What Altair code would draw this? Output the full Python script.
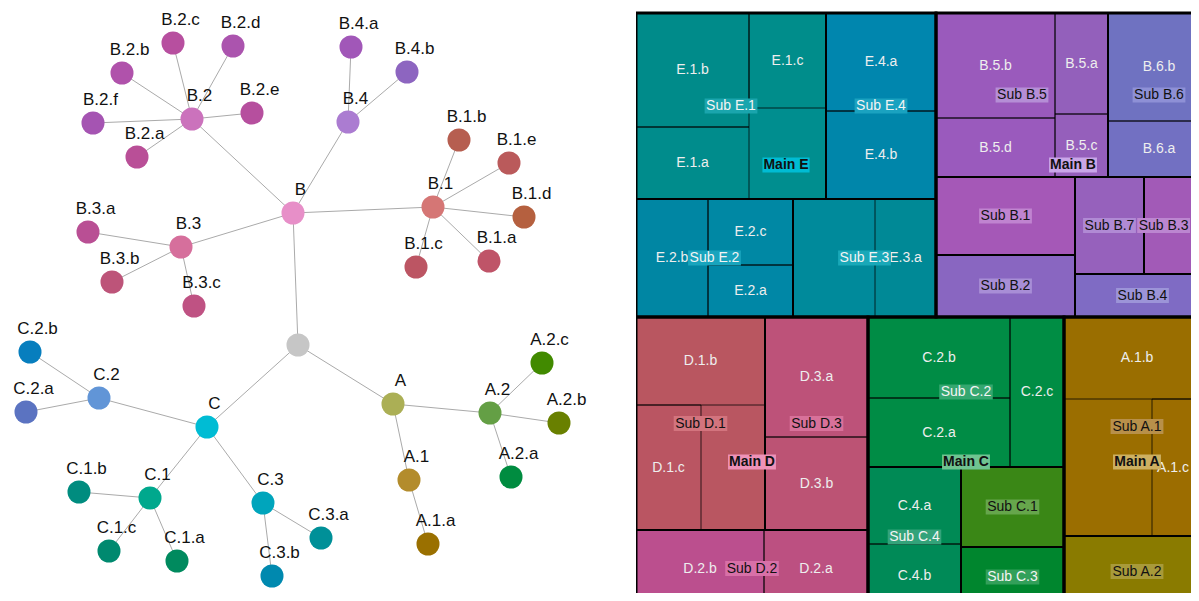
import altair as alt
import pandas as pd

# ---------------- network (left) ----------------
node_names = ["root", "A", "A.1", "A.1.a", "A.2", "A.2.a", "A.2.b", "A.2.c",
              "B", "B.1", "B.1.a", "B.1.b", "B.1.c", "B.1.d", "B.1.e",
              "B.2", "B.2.a", "B.2.b", "B.2.c", "B.2.d", "B.2.e", "B.2.f",
              "B.3", "B.3.a", "B.3.b", "B.3.c", "B.4", "B.4.a", "B.4.b",
              "C", "C.1", "C.1.a", "C.1.b", "C.1.c", "C.2", "C.2.a", "C.2.b",
              "C.3", "C.3.a", "C.3.b"]
node_x = [290, 385, 401, 420, 482, 503, 551, 534,
          285, 425, 481, 451, 408, 516, 501,
          184, 129, 114, 165, 225, 244, 85,
          173, 80, 104, 186, 340, 343, 399,
          199, 142, 169, 71, 101, 91, 18, 22,
          255, 313, 264]
node_y = [337, 396, 472, 536, 405, 469, 415, 355,
          205, 199, 253, 132, 259, 209, 155,
          111, 149, 65, 35, 38, 105, 115,
          239, 224, 274, 298, 114, 39, 64,
          419, 490, 553, 484, 543, 390, 404, 344,
          495, 530, 568]
node_colors = ["#c6c6c6", "#abaf55", "#b38c2c", "#9a7000", "#649f45", "#008c40", "#698000", "#418a00",
               "#e78fc8", "#d57675", "#bf5468", "#b65e50", "#bc5563", "#b5603f", "#ba5a5b",
               "#cb72bc", "#b94f97", "#b052ab", "#b74f9f", "#ab54ae", "#b64f9e", "#a554b2",
               "#d66f9c", "#b94f94", "#bd5479", "#bf5283", "#ab7cd1", "#a157b8", "#8d65c0",
               "#00bcd4", "#00a88d", "#008a5e", "#008c7f", "#00896f", "#6195d7", "#5b73c1", "#077ebe",
               "#00a5bc", "#009098", "#0089af"]

nodes = pd.DataFrame({"name": node_names, "x": node_x, "y": node_y})
nodes["label"] = [("" if n == "root" else n) for n in node_names]
pos = dict(zip(node_names, zip(node_x, node_y)))
edge_rows = []
for n in node_names:
    if n == "root":
        continue
    p = n.rsplit(".", 1)[0] if "." in n else "root"
    edge_rows.append({"x": pos[p][0], "y": pos[p][1], "x2": pos[n][0], "y2": pos[n][1]})
edges = pd.DataFrame(edge_rows)

LW, LH = 600, 585
nx = alt.Scale(domain=[0, LW], nice=False, zero=False)
ny = alt.Scale(domain=[0, LH], nice=False, zero=False, reverse=True)
FONT = "Liberation Sans"

edge_layer = alt.Chart(edges).mark_rule(color="#aaaaaa", strokeWidth=1).encode(
    x=alt.X("x:Q", scale=nx, axis=None), y=alt.Y("y:Q", scale=ny, axis=None),
    x2="x2:Q", y2="y2:Q")
node_layer = alt.Chart(nodes).mark_circle(size=530, opacity=1).encode(
    x=alt.X("x:Q", scale=nx, axis=None), y=alt.Y("y:Q", scale=ny, axis=None),
    color=alt.Color("name:N", scale=alt.Scale(domain=node_names, range=node_colors), legend=None))
node_text = alt.Chart(nodes).mark_text(fontSize=17, font=FONT, color="#111111", dx=7.5, dy=-23,
                                       align="center", baseline="middle").encode(
    x=alt.X("x:Q", scale=nx, axis=None), y=alt.Y("y:Q", scale=ny, axis=None), text="label:N")
left = alt.layer(edge_layer, node_layer, node_text).properties(width=LW, height=LH)

# ---------------- treemap (right) ----------------
main_names = ["Main E", "Main B", "Main D", "Main C", "Main A"]
main_x0 = [0, 300, 0, 232, 428]
main_x1 = [300, 574, 232, 428, 574]
main_y0 = [0, 0, 304, 304, 304]
main_y1 = [304, 304, 594, 594, 594]
main_label_bg = ["#00bcd4", "#c9a6e8", "#ee92b8", "#6fc491", "#cdb061"]

sub_names = ["Sub E.1", "Sub E.4", "Sub E.2", "Sub E.3", "Sub B.5", "Sub B.6", "Sub B.1", "Sub B.2",
             "Sub B.7", "Sub B.3", "Sub B.4", "Sub D.1", "Sub D.3", "Sub D.2", "Sub C.2", "Sub C.4",
             "Sub C.1", "Sub C.3", "Sub A.1", "Sub A.2"]
sub_x0 = [0, 190, 0, 157, 300, 472, 300, 300, 439, 508, 439, 0, 129, 0, 232, 232, 325, 325, 428, 428]
sub_x1 = [190, 300, 157, 300, 472, 574, 439, 439, 508, 574, 574, 129, 232, 232, 428, 325, 428, 428, 574, 574]
sub_y0 = [0, 0, 186, 186, 0, 0, 164, 242, 164, 164, 261, 304, 304, 517, 304, 454, 454, 534, 304, 523]
sub_y1 = [186, 186, 304, 304, 164, 164, 242, 304, 261, 261, 304, 517, 517, 594, 454, 594, 534, 594, 523, 594]
sub_colors = ["#008e8f", "#0086ad", "#0088a5", "#008a9b", "#985cbc", "#7071c1", "#a558b7", "#8966c1",
              "#9661bc", "#a25ab7", "#7f6bc4", "#b95661", "#bd5277", "#bb4f88", "#008c45", "#008a56",
              "#3a8716", "#00862e", "#9b6e00", "#8a7b00"]
sub_label_bg = ["#1aa5ad", "#1aa2c0", "#18a4bd", "#19a8b8", "#b58ed6", "#8e90d6", "#c084d0", "#a88ed6",
                "#b08ad4", "#bc86d0", "#9c94d8", "#d3747e", "#d8719a", "#d870a8", "#35a770", "#33a37a",
                "#66a64c", "#33a05a", "#b8904a", "#a89a3a"]
sub_ink = ["light", "light", "light", "light", "dark", "dark", "dark", "dark", "dark", "dark", "dark",
           "dark", "dark", "dark", "light", "light", "dark", "light", "dark", "dark"]

leaf_names = ["E.1.b", "E.1.a", "E.1.c", "E.4.a", "E.4.b", "E.2.b", "E.2.c", "E.2.a", "E.3.a",
              "B.5.b", "B.5.d", "B.5.a", "B.5.c", "B.6.b", "B.6.a", "D.1.b", "D.1.c", "D.3.a",
              "D.3.b", "D.2.b", "D.2.a", "C.2.b", "C.2.a", "C.2.c", "C.4.a", "C.4.b", "A.1.b", "A.1.c"]
leaf_x0 = [0, 0, 113, 190, 190, 0, 72, 72, 239, 300, 300, 419, 419, 472, 472, 0, 0, 129, 129, 0, 128,
           232, 232, 374, 232, 232, 428, 516]
leaf_x1 = [113, 113, 190, 300, 300, 72, 157, 157, 300, 419, 419, 472, 472, 574, 574, 129, 65, 232, 232,
           128, 232, 374, 374, 428, 325, 325, 574, 574]
leaf_y0 = [0, 114, 0, 0, 98, 186, 186, 252, 186, 0, 105, 0, 101, 0, 108, 304, 392, 304, 424, 517, 517,
           304, 385, 304, 454, 531, 304, 386]
leaf_y1 = [114, 186, 95, 98, 186, 304, 252, 304, 304, 105, 164, 101, 164, 108, 164, 392, 517, 424, 517,
           594, 594, 385, 454, 454, 531, 594, 386, 523]
leaf_colors = ["#008b8a", "#008c8c", "#008d8b", "#0086ae", "#0086aa", "#0086a3", "#0088a4", "#0087a6",
               "#008996", "#9a5abc", "#9a5abd", "#9360bb", "#955fbb", "#6f72c1", "#7270c2", "#b95660",
               "#ba5562", "#bd5279", "#bc5374", "#bb4f8e", "#bc5081", "#008c45", "#008c45", "#008d44",
               "#008a55", "#008a57", "#9a6e00", "#9c6d00"]

# approximate text widths (Arial metrics, per 1000 em) for label boxes
REG = {"S": 667, "u": 556, "b": 556, " ": 278, ".": 278, "A": 667, "B": 667, "C": 722, "D": 722,
       "E": 667, "M": 833, "a": 556, "i": 222, "n": 556, "c": 500, "d": 556}
BOLD = {"M": 833, "a": 556, "i": 278, "n": 611, " ": 278, "A": 722, "B": 722, "C": 722, "D": 722, "E": 667}


def text_w(s, table, size=14):
    return sum(table.get(c, 556) for c in s) * size / 1000.0


mains = pd.DataFrame({"name": main_names, "x0": main_x0, "x1": main_x1, "y0": main_y0, "y1": main_y1})
mains["bw"] = [text_w(s, BOLD) + 2 for s in main_names]
subs = pd.DataFrame({"name": sub_names, "x0": sub_x0, "x1": sub_x1, "y0": sub_y0, "y1": sub_y1,
                     "ink": sub_ink})
subs["bw"] = [text_w(s, REG) + 3 for s in sub_names]
leaves = pd.DataFrame({"name": leaf_names, "x0": leaf_x0, "x1": leaf_x1, "y0": leaf_y0, "y1": leaf_y1})
leaves["bw"] = [text_w(s, REG) + 2 for s in leaf_names]

RW, RH = 555, 585
tx = alt.Scale(domain=[0, RW], nice=False, zero=False)
ty = alt.Scale(domain=[-5, RH - 5], nice=False, zero=False, reverse=True)


def rect_enc(ch):
    return ch.encode(x=alt.X("x0:Q", scale=tx, axis=None), x2="x1:Q",
                     y=alt.Y("y0:Q", scale=ty, axis=None), y2="y1:Q")


def centered(ch):
    # label at the cell centre, kept inside the visible part of the panel
    return ch.transform_calculate(
        cx=f"min((datum.x0 + datum.x1) / 2, {RW} - datum.bw / 2 - 1)",
        cy="(datum.y0 + datum.y1) / 2")


sub_fill = rect_enc(alt.Chart(subs).mark_rect(clip=True)).encode(
    color=alt.Color("name:N", scale=alt.Scale(domain=sub_names, range=sub_colors), legend=None))
leaf_fill = rect_enc(alt.Chart(leaves).mark_rect(clip=True)).encode(
    fill=alt.Fill("name:N", scale=alt.Scale(domain=leaf_names, range=leaf_colors), legend=None))
leaf_stroke = rect_enc(alt.Chart(leaves).mark_rect(clip=True, fillOpacity=0, stroke="#000000",
                                                  strokeOpacity=0.75, strokeWidth=1))
sub_stroke = rect_enc(alt.Chart(subs).mark_rect(clip=True, fillOpacity=0, stroke="#000000", strokeWidth=2))
main_stroke = rect_enc(alt.Chart(mains).mark_rect(clip=True, fillOpacity=0, stroke="#000000", strokeWidth=3))

leaf_text = centered(alt.Chart(leaves)).mark_text(
    clip=True, fontSize=14, font=FONT, color="#eeeeee", align="center", baseline="middle").encode(
    x=alt.X("cx:Q", scale=tx, axis=None), y=alt.Y("cy:Q", scale=ty, axis=None), text="name:N")


def label_box(df, names, bgs):
    return centered(alt.Chart(df)).transform_calculate(
        bx0="datum.cx - datum.bw / 2", bx1="datum.cx + datum.bw / 2",
        by0="datum.cy - 7.5", by1="datum.cy + 7.5").mark_rect(clip=True).encode(
        x=alt.X("bx0:Q", scale=tx, axis=None), x2="bx1:Q",
        y=alt.Y("by0:Q", scale=ty, axis=None), y2="by1:Q",
        color=alt.Color("name:N", scale=alt.Scale(domain=names, range=bgs), legend=None))


sub_box = label_box(subs, sub_names, sub_label_bg)
sub_text = centered(alt.Chart(subs)).mark_text(
    clip=True, fontSize=14, font=FONT, align="center", baseline="middle").encode(
    x=alt.X("cx:Q", scale=tx, axis=None), y=alt.Y("cy:Q", scale=ty, axis=None), text="name:N",
    color=alt.Color("ink:N", scale=alt.Scale(domain=["light", "dark"], range=["#f4f4f4", "#111111"]),
                    legend=None))
main_box = label_box(mains, main_names, main_label_bg)
main_text = centered(alt.Chart(mains)).mark_text(
    clip=True, fontSize=14, font=FONT, fontWeight="bold", color="#111111", align="center",
    baseline="middle").encode(
    x=alt.X("cx:Q", scale=tx, axis=None), y=alt.Y("cy:Q", scale=ty, axis=None), text="name:N")

right = alt.layer(sub_fill, leaf_fill, leaf_stroke, sub_stroke, main_stroke, leaf_text,
                  sub_box, sub_text, main_box, main_text).resolve_scale(
    color="independent", fill="independent").properties(width=RW, height=RH)

chart = alt.hconcat(left, right, spacing=28).properties(padding=0, bounds="flush").configure_view(stroke=None)

chart.save("out.html", embed_options={"renderer": "svg", "actions": False})
